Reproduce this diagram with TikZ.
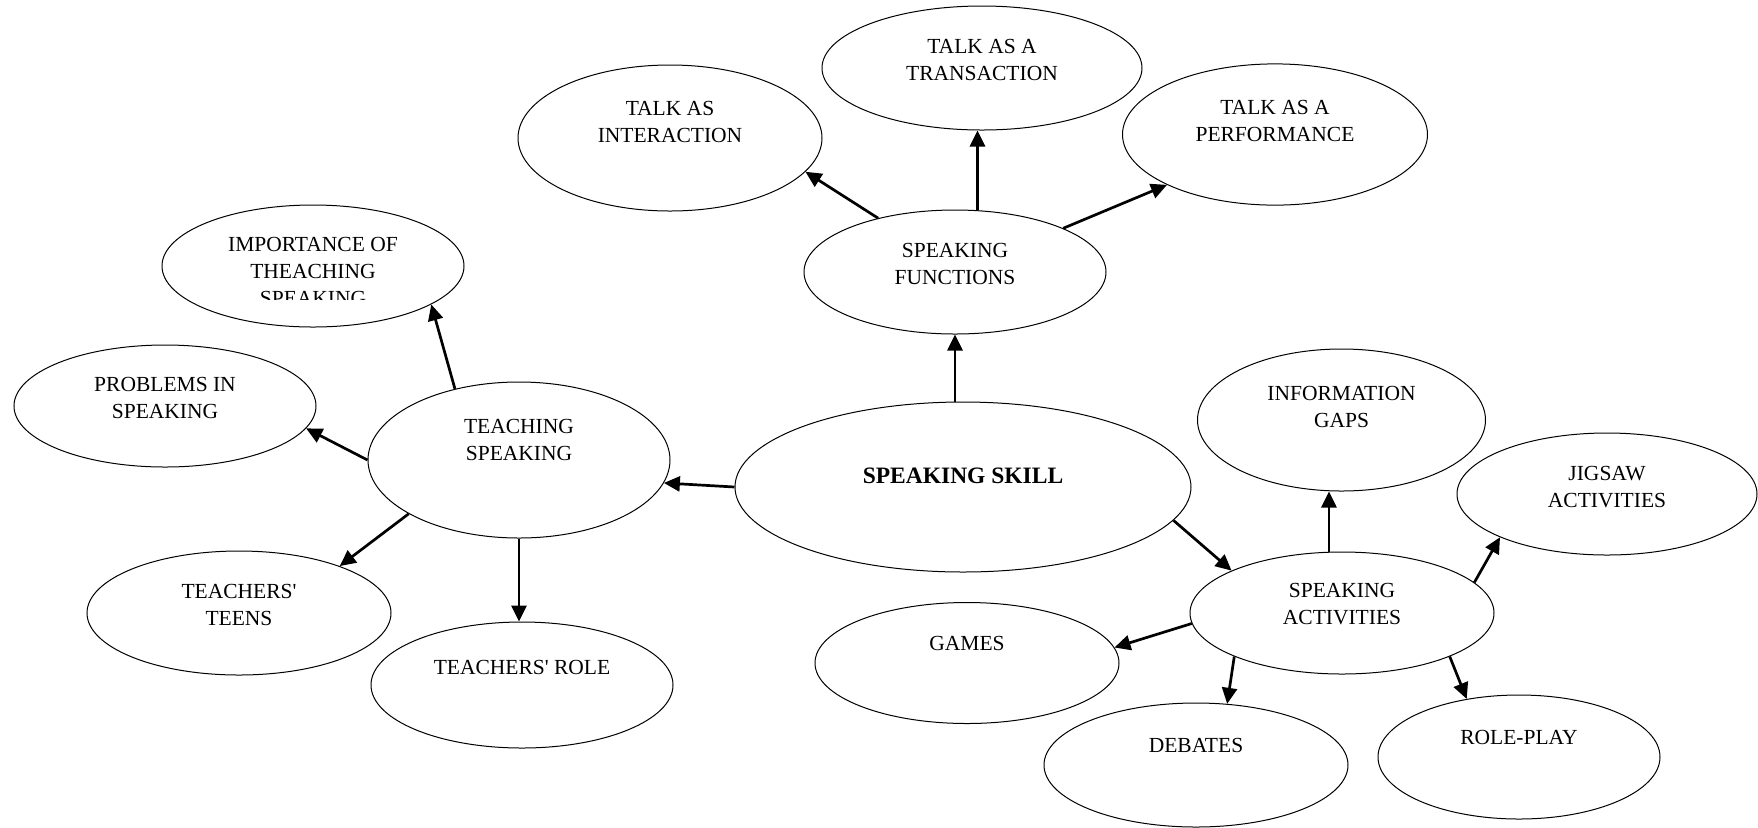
\documentclass[tikz,border=0pt]{standalone}
\usepackage{fontspec}
\setmainfont{Liberation Serif}
\usetikzlibrary{shapes.geometric,arrows.meta}

\begin{document}
\begin{tikzpicture}[x=0.5pt,y=-0.5pt,
        bub/.style={ellipse, draw, line width=0.5pt, inner sep=0pt},
        txt/.style={align=center, font=\fontsize{10.75}{13.5}\selectfont},
        arr/.style={-{Triangle[length=8pt,width=7.5pt]}, line width=1.35pt}]
        \useasboundingbox (0,0) rectangle (1758,827);

        % centre
        \node[bub, minimum width=228pt, minimum height=85pt] (skill) at (963,487) {};
        \node[txt, font=\fontsize{11.75}{14}\selectfont\bfseries] (skill-t) at ([yshift=5.5pt]skill.center) {SPEAKING SKILL};

        % speaking functions
        \node[bub, minimum width=151pt, minimum height=62pt] (sfun) at (955,272) {};
        \node[txt] (sfun-t) at ([yshift=4pt]sfun.center) {SPEAKING\\FUNCTIONS};
        \node[bub, minimum width=152pt, minimum height=73pt] (inter) at (670,138) {};
        \node[txt] (inter-t) at ([yshift=8pt]inter.center) {TALK AS\\INTERACTION};
        \node[bub, minimum width=160pt, minimum height=62pt] (trans) at (982,68) {};
        \node[txt] (trans-t) at ([yshift=4pt]trans.center) {TALK AS A\\TRANSACTION};
        \node[bub, minimum width=152.5pt, minimum height=70.6pt] (perf) at (1275,134.5) {};
        \node[txt] (perf-t) at ([yshift=6.75pt]perf.center) {TALK AS A\\PERFORMANCE};

        % teaching speaking
        \node[bub, minimum width=151pt, minimum height=78pt] (teach) at (519,460) {};
        \node[txt] (teach-t) at ([yshift=9.8pt]teach.center) {TEACHING\\SPEAKING};
        \node[bub, minimum width=151pt, minimum height=61pt] (imp) at (313,266) {};
        \begin{scope}
            \clip (0,0) rectangle (1758,299);
            \node[txt] (imp-t) at ([yshift=-2.5pt]imp.center) {IMPORTANCE OF\\THEACHING\\SPEAKING};
        \end{scope}
        \node[bub, minimum width=151pt, minimum height=61pt] (prob) at (165,406) {};
        \node[txt] (prob-t) at ([yshift=4pt]prob.center) {PROBLEMS IN\\SPEAKING};
        \node[bub, minimum width=152pt, minimum height=62pt] (teens) at (239,613) {};
        \node[txt] (teens-t) at ([yshift=4pt]teens.center) {TEACHERS\textquotesingle\\TEENS};
        \node[bub, minimum width=151pt, minimum height=63pt] (role) at (522,685) {};
        \node[txt] (role-t) at ([yshift=9pt]role.center) {TEACHERS\textquotesingle{} ROLE};

        % speaking activities
        \node[bub, minimum width=152pt, minimum height=61pt] (act) at (1342,613) {};
        \node[txt] (act-t) at ([yshift=4.25pt]act.center) {SPEAKING\\ACTIVITIES};
        \node[bub, minimum width=144pt, minimum height=71pt] (info) at (1341.5,420) {};
        \node[txt] (info-t) at ([yshift=6.5pt]info.center) {INFORMATION\\GAPS};
        \node[bub, minimum width=150pt, minimum height=61pt] (jig) at (1607,494) {};
        \node[txt] (jig-t) at ([yshift=3.5pt]jig.center) {JIGSAW\\ACTIVITIES};
        \node[bub, minimum width=152pt, minimum height=60.5pt] (games) at (967,663) {};
        \node[txt] (games-t) at ([yshift=10pt]games.center) {GAMES};
        \node[bub, minimum width=152pt, minimum height=62pt] (deb) at (1196,765) {};
        \node[txt] (deb-t) at ([yshift=10pt]deb.center) {DEBATES};
        \node[bub, minimum width=141pt, minimum height=62pt] (rp) at (1519,757) {};
        \node[txt] (rp-t) at ([yshift=9.8pt]rp.center) {ROLE-PLAY};

        % arrows
        \draw[arr] (sfun.south |- skill.north) -- (sfun.south);
        \draw[arr] (sfun.145) -- (inter.-14);
        \draw[arr] (sfun.70) -- (sfun.70 |- trans.south);
        \draw[arr] (sfun.22) -- (perf.205);
        \draw[arr] (skill.west) -- (teach.-9);
        \draw[arr] (teach.132) -- (imp.-18);
        \draw[arr] (teach.west) -- (prob.-9);
        \draw[arr] (teach.206) -- (teens.25);
        \draw[arr] (teach.south) -- (teach.south |- role.north);
        \draw[arr] (skill.-9) -- (act.159);
        \draw[arr] (act.102) -- (act.102 |- info.south);
        \draw[arr] (act.13) -- (jig.202);
        \draw[arr] (act.184) -- (games.6);
        \draw[arr] (act.202) -- (deb.63);
        \draw[arr] (act.-22) -- (rp.132);
\end{tikzpicture}
\end{document}
